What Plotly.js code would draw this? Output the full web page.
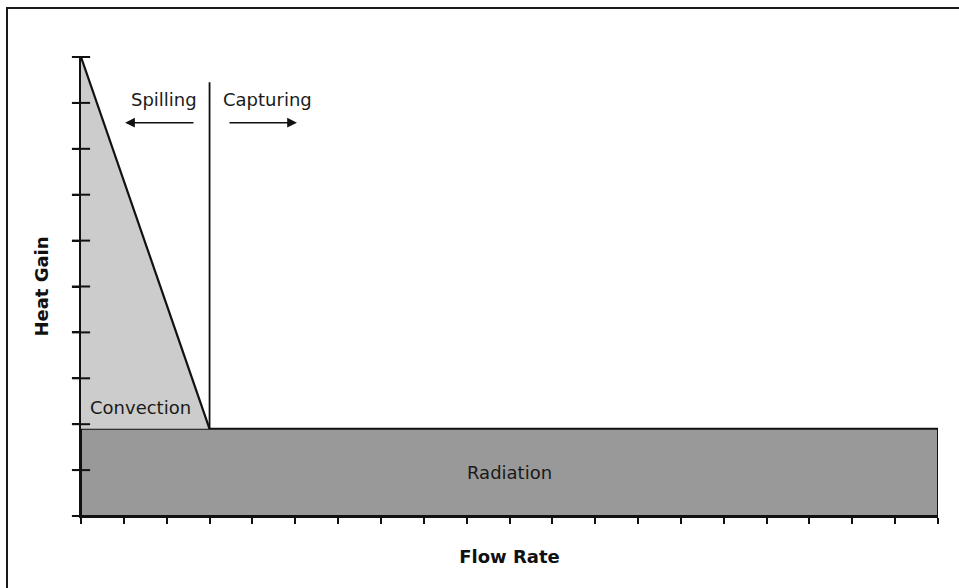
<!DOCTYPE html>
<html>
<head>
<meta charset="utf-8">
<script src="https://cdn.plot.ly/plotly-3.0.1.min.js"></script>
<style>
  html, body { margin: 0; padding: 0; background: #ffffff; overflow: hidden; }
  #chart { position: absolute; left: 0; top: 0; width: 959px; height: 588px; }
  #frame { position: absolute; left: 6px; top: 7px; width: 1000px; height: 700px;
           border: 2px solid #1a1a1a; pointer-events: none; z-index: 10; }
</style>
</head>
<body>
<div id="chart"></div>
<div id="frame"></div>
<script>
// ---- data ----
const flowRange = [0, 20];          // x axis: 20 tick intervals, unlabeled
const heatRange = [0, 10];          // y axis: 10 tick intervals, unlabeled
const heatTicks = [0, 1, 2, 3, 4, 5, 6, 7, 8, 9, 10];   // y tick marks cross the axis
const radiationLevel = 1.9;         // constant radiation heat gain
const radiationX = [0, 20, 20, 0, 0];
const radiationY = [0, 0, radiationLevel, radiationLevel, 0];
const convectionX = [0, 3, 0, 0];   // convection falls to zero at the capture flow rate
const convectionY = [10, radiationLevel, radiationLevel, 10];
const captureFlow = 3;              // spilling / capturing boundary
const boundaryX = [captureFlow, captureFlow];
const boundaryY = [radiationLevel, 9.45];
const labels = ["Spilling", "Capturing", "Convection", "Radiation"];
const labelX = [1.93, 4.36, 1.40, 10.0];
const labelY = [9.08, 9.08, 2.37, 0.95];
const arrowTailX = [2.66, 3.43];
const arrowHeadX = [1.03, 5.04];
const arrowY = [8.57, 8.57];
const xTitle = "Flow Rate";
const yTitle = "Heat Gain";

const FONT = "DejaVu Sans, Verdana, sans-serif";

const traces = [
  { x: radiationX, y: radiationY, type: "scatter", mode: "lines", fill: "toself",
    fillcolor: "#999999", line: { color: "#111111", width: 2 }, hoverinfo: "skip", showlegend: false },
  { x: convectionX, y: convectionY, type: "scatter", mode: "lines", fill: "toself",
    fillcolor: "#cccccc", line: { color: "rgba(0,0,0,0)", width: 0 }, hoverinfo: "skip", showlegend: false },
  { x: convectionX.slice(0, 2), y: convectionY.slice(0, 2), type: "scatter", mode: "lines",
    line: { color: "#111111", width: 2.2 }, hoverinfo: "skip", showlegend: false },
  { x: boundaryX, y: boundaryY, type: "scatter", mode: "lines",
    line: { color: "#111111", width: 1.8 }, hoverinfo: "skip", showlegend: false },
  // crossing tick marks on the heat-gain axis
  { x: heatTicks.map(() => flowRange[0]), y: heatTicks, type: "scatter", mode: "markers",
    cliponaxis: false,
    marker: { symbol: "line-ew", size: 13, line: { color: "#111111", width: 2 } },
    hoverinfo: "skip", showlegend: false }
];

const annotations = [];
for (let i = 0; i < labels.length; i++) {
  annotations.push({ x: labelX[i], y: labelY[i], xref: "x", yref: "y", text: labels[i],
    showarrow: false, xanchor: "center", yanchor: "middle",
    font: { family: FONT, size: 18, color: "#1a1a1a" } });
}
for (let i = 0; i < arrowTailX.length; i++) {
  annotations.push({ x: arrowHeadX[i], y: arrowY[i], ax: arrowTailX[i], ay: arrowY[i],
    xref: "x", yref: "y", axref: "x", ayref: "y", text: "", showarrow: true,
    arrowhead: 2, arrowsize: 1.3, arrowwidth: 1.5, arrowcolor: "#111111", standoff: 0, startstandoff: 0 });
}

const layout = {
  width: 959, height: 588,
  margin: { l: 81, r: 21, t: 57, b: 72, pad: 0 },
  paper_bgcolor: "#ffffff", plot_bgcolor: "#ffffff",
  font: { family: FONT, color: "#111111" },
  showlegend: false,
  xaxis: {
    range: flowRange, dtick: 1, tick0: 0, showgrid: false, zeroline: false,
    showline: true, linecolor: "#111111", linewidth: 2,
    ticks: "outside", ticklen: 6, tickwidth: 2, tickcolor: "#111111",
    showticklabels: false, fixedrange: true, layer: "above traces",
    title: { text: xTitle, standoff: 27, font: { family: FONT, size: 18, color: "#111111", weight: "bold" } }
  },
  yaxis: {
    range: heatRange, dtick: 1, tick0: 0, showgrid: false, zeroline: false,
    showline: true, linecolor: "#111111", linewidth: 2,
    ticks: "outside", ticklen: 7, tickwidth: 2, tickcolor: "#111111",
    showticklabels: false, fixedrange: true, layer: "above traces",
    title: { text: yTitle, standoff: 19, font: { family: FONT, size: 18, color: "#111111", weight: "bold" } }
  },
  annotations: annotations
};

Plotly.newPlot("chart", traces, layout, { displayModeBar: false, staticPlot: true });
</script>
</body>
</html>
